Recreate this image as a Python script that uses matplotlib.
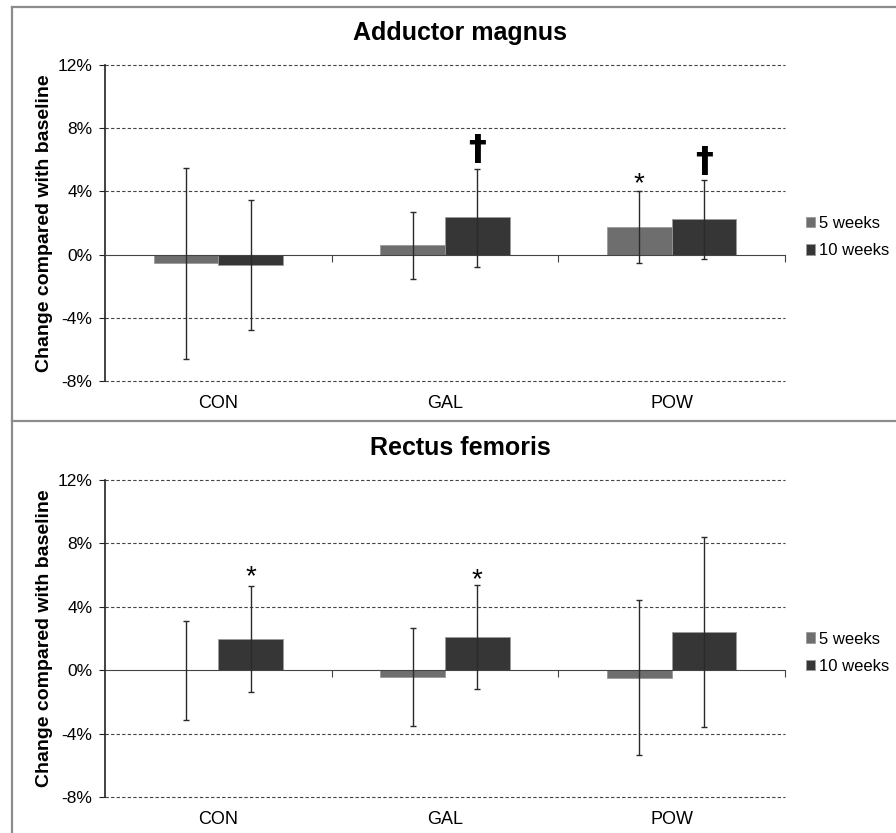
import numpy as np
import matplotlib
matplotlib.use("Agg")
import matplotlib.pyplot as plt
from matplotlib.lines import Line2D

plt.rcParams['font.family'] = ['Liberation Sans', 'DejaVu Sans']

# Data (percent change vs baseline)
groups = ["CON", "GAL", "POW"]
series = ["5 weeks", "10 weeks"]

add_5 = [-0.5, 0.6, 1.75]
add_5_lo = [-6.6, -1.55, -0.55]
add_5_hi = [5.5, 2.7, 4.05]
add_10 = [-0.65, 2.35, 2.25]
add_10_lo = [-4.8, -0.78, -0.27]
add_10_hi = [3.43, 5.42, 4.73]

rec_5 = [0.0, -0.4, -0.47]
rec_5_lo = [-3.15, -3.5, -5.36]
rec_5_hi = [3.1, 2.65, 4.43]
rec_10 = [2.0, 2.1, 2.42]
rec_10_lo = [-1.35, -1.16, -3.6]
rec_10_hi = [5.3, 5.4, 8.4]

# significance markers: (group index, series index, symbol, y)
add_marks = [(1, 1, "†", 6.6), (2, 0, "*", 4.45), (2, 1, "†", 5.85)]
rec_marks = [(0, 1, "*", 5.85), (1, 1, "*", 5.7)]

colors = ["#6e6e6e", "#363636"]
W, H = 896, 833
fig = plt.figure(figsize=(W / 100, H / 100), dpi=100)

# panel frame lines
for seg in [([12, W], [7, 7]), ([12, 12], [7, H]), ([12, W], [421, 421])]:
    fig.add_artist(Line2D(np.array(seg[0]) / W, 1 - np.array(seg[1]) / H,
                          color="#8c8c8c", lw=1.6))


def panel(top_px, bot_px, title, v5, lo5, hi5, v10, lo10, hi10, marks):
    ax = fig.add_axes([105 / W, 1 - bot_px / H, 680 / W, (bot_px - top_px) / H])
    x = np.arange(len(groups))
    bw = 0.2857
    vals = [v5, v10]
    los = [lo5, lo10]
    his = [hi5, hi10]
    for k in range(2):
        xs = x + (k - 0.5) * bw
        v = np.array(vals[k])
        err = [v - np.array(los[k]), np.array(his[k]) - v]
        ax.bar(xs, v, width=bw, color=colors[k], edgecolor="#9a9a9a",
               linewidth=0.6, label=series[k], zorder=2)
        ax.errorbar(xs, v, yerr=err, fmt="none", ecolor="#2a2a2a",
                    elinewidth=1.0, capsize=2.5, capthick=1.0, zorder=3)
    for g, s, sym, y in marks:
        xs = g + (s - 0.5) * bw
        if sym == "†":
            ax.text(xs, y, sym, ha="center", va="center", fontsize=26,
                    fontweight="bold", family=["DejaVu Sans"], zorder=4)
        else:
            ax.text(xs, y, sym, ha="center", va="center", fontsize=20,
                    zorder=4)
    ax.set_xlim(-0.5, 2.5)
    ax.set_ylim(-8, 12)
    ax.set_yticks(np.arange(-8, 13, 4))
    ax.set_yticklabels([f"{t}%" for t in range(-8, 13, 4)], fontsize=12.5)
    for t in [-8, -4, 4, 8, 12]:
        ax.axhline(t, color="#444444", lw=0.8, ls=(0, (3, 2)), zorder=1,
                   clip_on=False)
    for sp in ["top", "right"]:
        ax.spines[sp].set_visible(False)
    ax.spines["bottom"].set_position(("data", 0))
    ax.spines["bottom"].set_color("#444444")
    ax.spines["left"].set_color("#222222")
    ax.spines["left"].set_linewidth(1.2)
    ax.set_xticks([0.5, 1.5, 2.5])
    ax.set_xticklabels([])
    ax.tick_params(axis="x", length=5, color="#444444")
    ax.tick_params(axis="y", length=4, pad=5, color="#222222")
    for i, g in enumerate(groups):
        ax.text(i, -0.07, g, transform=ax.get_xaxis_transform(),
                ha="center", va="center", fontsize=13)
    ax.set_ylabel("Change compared with baseline", fontsize=14,
                  fontweight="bold")
    ax.yaxis.set_label_coords(-0.077, 0.5)
    fig.text(460 / W, 1 - (top_px - 32) / H, title, ha="center", va="center",
             fontsize=18, fontweight="bold")
    ax.legend(loc="center left", bbox_to_anchor=(1.014, 0.455), frameon=False,
              fontsize=12, handlelength=0.55, handleheight=0.6,
              handletextpad=0.2, labelspacing=0.75, borderaxespad=0.3)
    return ax


panel(65, 381, "Adductor magnus", add_5, add_5_lo, add_5_hi,
      add_10, add_10_lo, add_10_hi, add_marks)
panel(480, 797, "Rectus femoris", rec_5, rec_5_lo, rec_5_hi,
      rec_10, rec_10_lo, rec_10_hi, rec_marks)

fig.savefig("out.png", dpi=100)
